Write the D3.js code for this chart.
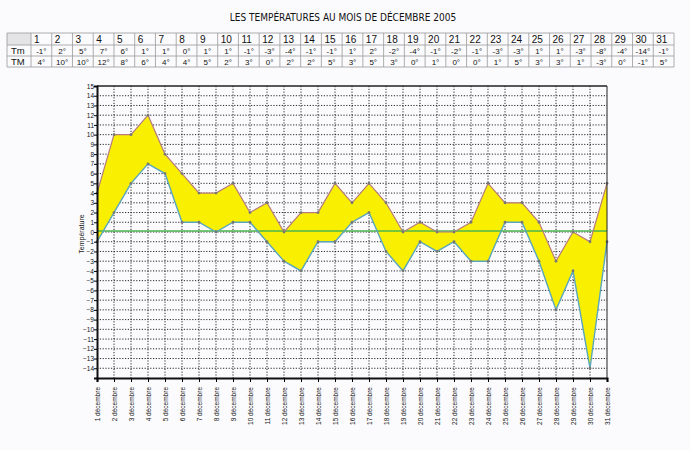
<!DOCTYPE html>
<html lang="fr">
<head>
<meta charset="utf-8">
<title>Températures décembre 2005</title>
<style>
  body { margin: 0; background: #fbfbfd; }
  text { font-family: Arial, "Liberation Sans", sans-serif; fill: #111; }
  .grid line { stroke: #111; stroke-width: 0.9; stroke-dasharray: 1.2,1.6; }
  .tbl line { stroke: #999; stroke-width: 0.8; }
</style>
</head>
<body>
<div id="chart"></div>
<script src="https://cdn.jsdelivr.net/npm/d3@7"></script>
<script>
var width = 690, height = 450;

var days = d3.range(1, 32);
var tMin = [-1, 2, 5, 7, 6, 1, 1, 0, 1, 1, -1, -3, -4, -1, -1, 1, 2, -2, -4, -1, -2, -1, -3, -3, 1, 1, -3, -8, -4, -14, -1];
var tMax = [4, 10, 10, 12, 8, 6, 4, 4, 5, 2, 3, 0, 2, 2, 5, 3, 5, 3, 0, 1, 0, 0, 1, 5, 3, 3, 1, -3, 0, -1, 5];
var rowLabels = ["Tm", "TM"];
var yTicks = d3.range(-14, 16);
var dayLabel = function(d){ return d + " décembre"; };

var svg = d3.select("#chart").append("svg")
    .attr("width", width).attr("height", height);

svg.append("rect").attr("width", width).attr("height", height).attr("fill", "#fbfbfd");

// title
svg.append("text")
    .attr("x", 343).attr("y", 21)
    .attr("text-anchor", "middle")
    .style("font-family", "'Liberation Sans Narrow', 'DejaVu Sans Condensed', sans-serif")
    .style("font-size", "10px")
    .text("LES TEMPÉRATURES AU MOIS DE DÉCEMBRE 2005");

// ---- table ----
var tx0 = 7, tcol0 = 31, tx1 = 674;
var trows = [33, 45, 56, 67];
var cx = d3.scaleBand().domain(days).range([tcol0, tx1]);
var tbl = svg.append("g").attr("class", "tbl");

tbl.append("rect").attr("x", tx0).attr("y", trows[0])
    .attr("width", tcol0 - tx0).attr("height", trows[1] - trows[0])
    .attr("fill", "#e4e4e6");
trows.forEach(function(yy){
  tbl.append("line").attr("x1", tx0).attr("x2", tx1).attr("y1", yy).attr("y2", yy);
});
[tx0, tcol0].concat(days.map(function(d){ return cx(d) + cx.bandwidth(); })).forEach(function(xx){
  tbl.append("line").attr("x1", xx).attr("x2", xx).attr("y1", trows[0]).attr("y2", trows[3]);
});
tbl.selectAll("text.hd").data(days).enter().append("text")
    .attr("x", function(d){ return cx(d) + 3; })
    .attr("y", trows[0] + 9.5)
    .style("font-size", "10px")
    .text(function(d){ return d; });
[tMin, tMax].forEach(function(vals, i){
  var yy = trows[i + 1] + 8.5;
  tbl.append("text").attr("x", tx0 + 4).attr("y", yy)
      .style("font-size", "9.5px").text(rowLabels[i]);
  tbl.selectAll("text.v" + i).data(vals).enter().append("text")
      .attr("x", function(v, j){ return cx(days[j]) + cx.bandwidth() / 2; })
      .attr("y", yy)
      .attr("text-anchor", "middle")
      .style("font-size", "8px")
      .text(function(v){ return v + "°"; });
});

// ---- chart ----
var pLeft = 97, pRight = 607, pTop = 86, pBottom = 378;
var x = d3.scalePoint().domain(days).range([pLeft, pRight]);
var y = d3.scaleLinear().domain([-15, 15]).range([pBottom, pTop]);

var grid = svg.append("g").attr("class", "grid");
grid.selectAll("line.h").data(yTicks.filter(function(t){ return t < 15; })).enter().append("line")
    .attr("x1", pLeft).attr("x2", pRight)
    .attr("y1", function(d){ return y(d); }).attr("y2", function(d){ return y(d); });
grid.selectAll("line.v").data(days.slice(1, -1)).enter().append("line")
    .attr("y1", pTop).attr("y2", pBottom)
    .attr("x1", function(d){ return x(d); }).attr("x2", function(d){ return x(d); });

// band between min and max
var area = d3.area()
    .x(function(d, i){ return x(days[i]); })
    .y0(function(d, i){ return y(tMin[i]); })
    .y1(function(d, i){ return y(tMax[i]); });
svg.append("path").datum(tMax).attr("d", area)
    .attr("fill", "#f8f000").attr("stroke", "none");

// zero line
svg.append("line").attr("x1", pLeft).attr("x2", pRight)
    .attr("y1", y(0) - 1).attr("y2", y(0) - 1)
    .attr("stroke", "#4cb44c").attr("stroke-width", 1.4);

var line = d3.line().x(function(d, i){ return x(days[i]); }).y(function(d){ return y(d); });
svg.append("path").datum(tMax).attr("d", line)
    .attr("fill", "none").attr("stroke", "#b87a7a").attr("stroke-width", 1.2);
svg.append("path").datum(tMin).attr("d", line)
    .attr("fill", "none").attr("stroke", "#5aa6bc").attr("stroke-width", 1.4);

[tMax, tMin].forEach(function(vals){
  svg.append("g").selectAll("circle").data(vals).enter().append("circle")
      .attr("cx", function(d, i){ return x(days[i]); })
      .attr("cy", function(d){ return y(d); })
      .attr("r", 1.4).attr("fill", "#777");
});

// frame
svg.append("line").attr("x1", pLeft).attr("x2", pRight).attr("y1", pTop).attr("y2", pTop)
    .attr("stroke", "#222").attr("stroke-width", 1.6);
svg.append("line").attr("x1", pRight).attr("x2", pRight).attr("y1", pTop).attr("y2", pBottom)
    .attr("stroke", "#222").attr("stroke-width", 1);

// axes
var yAxis = d3.axisLeft(y).tickValues(yTicks).tickSize(3).tickFormat(d3.format("d"));
var gy = svg.append("g").attr("transform", "translate(" + pLeft + ",0)").call(yAxis);
gy.select(".domain").attr("stroke", "#111").attr("stroke-width", 2);
gy.selectAll("text").style("font-size", "6.5px").attr("x", -3);

var xAxis = d3.axisBottom(x).tickSize(4).tickFormat(dayLabel);
var gx = svg.append("g").attr("transform", "translate(0," + pBottom + ")").call(xAxis);
gx.select(".domain").attr("stroke", "#111").attr("stroke-width", 2.2);
gx.selectAll("text")
    .style("font-size", "6.5px")
    .attr("text-anchor", "end")
    .attr("transform", "rotate(-90)")
    .attr("x", -9).attr("y", 0).attr("dy", "0.32em");

svg.append("text")
    .attr("transform", "translate(84,234) rotate(-90)")
    .attr("text-anchor", "middle")
    .style("font-size", "7px")
    .text("Température");
</script>
</body>
</html>
